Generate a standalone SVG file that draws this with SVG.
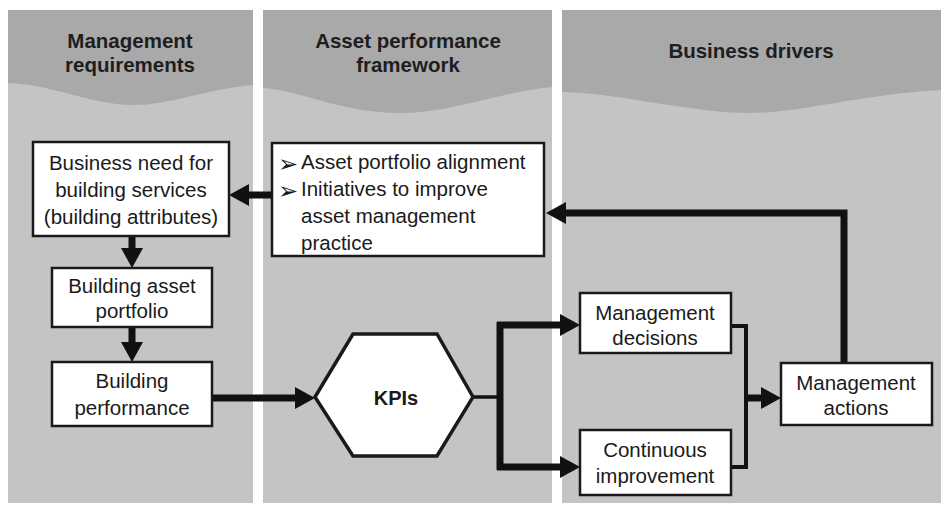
<svg xmlns="http://www.w3.org/2000/svg" width="949" height="506" viewBox="0 0 949 506">
<style>
.panel{fill:#c4c4c4}
.head{fill:#a9a9a9}
.ht{font-family:"Liberation Sans",Arial,sans-serif;font-weight:bold;font-size:20.5px;fill:#1e1e1e;text-anchor:middle}
.box{fill:#ffffff;stroke:#1a1a1a;stroke-width:2.5}
.t{font-family:"Liberation Sans",Arial,sans-serif;font-size:20.5px;fill:#1a1a1a;text-anchor:middle}
.tl{font-family:"Liberation Sans",Arial,sans-serif;font-size:20.5px;fill:#1a1a1a}
.bul{font-family:"DejaVu Sans",sans-serif;font-size:24px;fill:#1a1a1a}
.kpi{font-family:"Liberation Sans",Arial,sans-serif;font-weight:bold;font-size:20px;fill:#1a1a1a;text-anchor:middle}
.c{fill:none;stroke:#111;stroke-width:7;stroke-linejoin:miter}
.ca{fill:none;stroke:#111;stroke-width:7;marker-end:url(#ah)}
.cn{fill:none;stroke:#111;stroke-width:4}
</style>
<defs>
<marker id="ah" markerUnits="userSpaceOnUse" markerWidth="22" markerHeight="24" refX="7" refY="11" orient="auto">
<path d="M0,0 L20,11 L0,22 Z" fill="#111"/>
</marker>
</defs>
<rect width="949" height="506" fill="#ffffff"/>
<g id="lanes">
<rect class="panel" x="8" y="10" width="245" height="493"/>
<path class="head" d="M8,10 H253 V85 C200,90 170,106 130,105 C90,104 50,84 8,83 Z"/>
<rect class="panel" x="263" y="10" width="289" height="493"/>
<path class="head" d="M263,10 H552 V87 C500,92 450,113 400,113 C340,113 300,90 263,88 Z"/>
<rect class="panel" x="562" y="10" width="379" height="493"/>
<path class="head" d="M562,10 H941 V90 C870,93 800,113 750,113 C690,113 620,93 562,92 Z"/>
<text class="ht" x="130" y="48">Management</text>
<text class="ht" x="130" y="72">requirements</text>
<text class="ht" x="408" y="48">Asset performance</text>
<text class="ht" x="408" y="72">framework</text>
<text class="ht" x="751" y="58">Business drivers</text>
</g>
<g id="connectors">
<line class="ca" x1="272" y1="195" x2="242" y2="195"/>
<polyline class="ca" points="844,363 844,213 559,213"/>
<line class="ca" x1="132" y1="236" x2="132" y2="255"/>
<line class="ca" x1="132" y1="327" x2="132" y2="349"/>
<line class="ca" x1="212" y1="398" x2="302" y2="398"/>
<line class="cn" x1="473" y1="397" x2="500" y2="397" style="stroke-width:3.5"/>
<line class="c" x1="500" y1="322" x2="500" y2="470"/>
<line class="ca" x1="497" y1="325" x2="567" y2="325"/>
<line class="ca" x1="497" y1="467" x2="567" y2="467"/>
<polyline class="cn" points="731,326 746,326 746,467 731,467"/>
<line class="ca" x1="746" y1="398" x2="768" y2="398"/>
</g>
<g id="business-need">
<rect class="box" x="33" y="142" width="196" height="94"/>
<text class="t" x="131" y="170">Business need for</text>
<text class="t" x="131" y="197">building services</text>
<text class="t" x="131" y="224">(building attributes)</text>
</g>
<g id="asset-framework">
<rect class="box" x="272" y="143" width="272" height="113"/>
<text class="bul" x="278" y="172">➢</text>
<text class="tl" x="301" y="169">Asset portfolio alignment</text>
<text class="bul" x="278" y="199">➢</text>
<text class="tl" x="301" y="196">Initiatives to improve</text>
<text class="tl" x="301" y="223">asset management</text>
<text class="tl" x="301" y="250">practice</text>
</g>
<g id="asset-portfolio">
<rect class="box" x="52" y="268" width="160" height="59"/>
<text class="t" x="132" y="293">Building asset</text>
<text class="t" x="132" y="318">portfolio</text>
</g>
<g id="building-performance">
<rect class="box" x="52" y="362" width="160" height="64"/>
<text class="t" x="132" y="388">Building</text>
<text class="t" x="132" y="415">performance</text>
</g>
<g id="kpis">
<polygon class="box" points="315,397 353,334 437,334 473,397 437,456 353,456" style="stroke-width:3.5"/>
<text class="kpi" x="396" y="405">KPIs</text>
</g>
<g id="management-decisions">
<rect class="box" x="580" y="293" width="151" height="60"/>
<text class="t" x="655" y="320">Management</text>
<text class="t" x="655" y="345">decisions</text>
</g>
<g id="continuous-improvement">
<rect class="box" x="580" y="430" width="151" height="65"/>
<text class="t" x="655" y="457">Continuous</text>
<text class="t" x="655" y="483">improvement</text>
</g>
<g id="management-actions">
<rect class="box" x="781" y="363" width="151" height="62"/>
<text class="t" x="856" y="390">Management</text>
<text class="t" x="856" y="415">actions</text>
</g>
</svg>
